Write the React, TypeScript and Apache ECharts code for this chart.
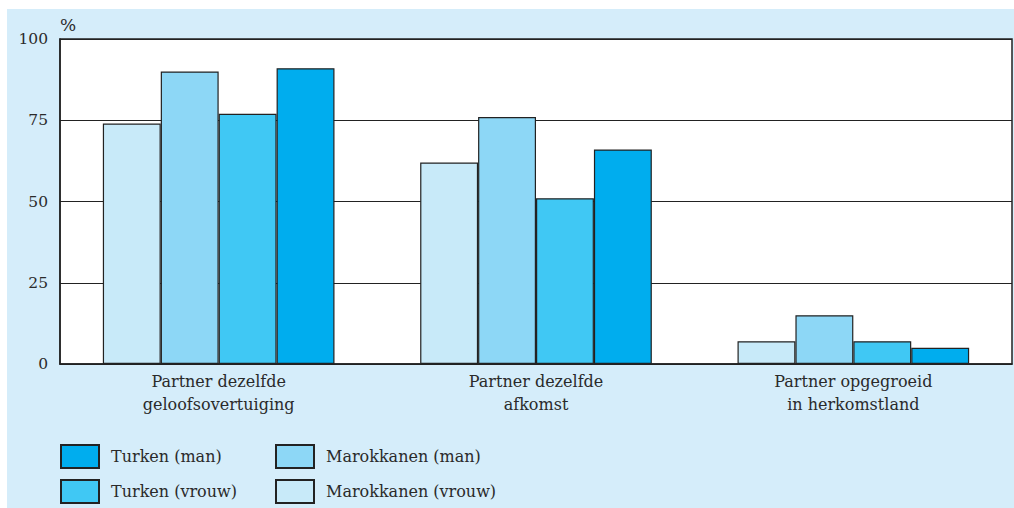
import React, { useEffect, useRef } from "react";
import * as echarts from "echarts";

const categories = [
  "Partner dezelfde\ngeloofsovertuiging",
  "Partner dezelfde\nafkomst",
  "Partner opgegroeid\nin herkomstland",
];
const marokkanenVrouw = [74, 62, 7];
const marokkanenMan = [90, 76, 15];
const turkenVrouw = [77, 51, 7];
const turkenMan = [91, 66, 5];
const yTicks = [0, 25, 50, 75, 100];

const FONT = "DejaVu Serif";
const BG = "#d5edfa";
const TXT = "#2a2a2a";

export default function App() {
  const ref = useRef<HTMLDivElement>(null);
  useEffect(() => {
    if (!ref.current) return;
    const chart = echarts.init(ref.current, null, { renderer: "svg" });
    const mk = (name: string, data: number[], color: string) => ({
      name,
      type: "bar",
      data,
      barGap: "0%",
      barCategoryGap: "27%",
      itemStyle: { color, borderColor: "#222", borderWidth: 1.2 },
    });
    const legendBase = {
      top: 444,
      orient: "vertical",
      padding: 0,
      icon: "rect",
      itemWidth: 38,
      itemHeight: 23,
      itemGap: 10,
      textStyle: { fontFamily: FONT, fontSize: 16, color: TXT, padding: [0, 0, 0, 7] },
    };
    chart.setOption({
      animation: false,
      backgroundColor: "#ffffff",
      textStyle: { fontFamily: FONT },
      graphic: [
        {
          type: "rect",
          z: -10,
          silent: true,
          shape: { x: 7, y: 9, width: 1007, height: 499 },
          style: { fill: BG },
        },
      ],
      grid: {
        left: 60,
        right: 2,
        top: 39,
        bottom: 144,
        show: true,
        backgroundColor: "#ffffff",
        borderColor: "#222",
        borderWidth: 1.5,
        containLabel: false,
      },
      legend: [
        { ...legendBase, left: 60, data: ["Turken (man)", "Turken (vrouw)"] },
        { ...legendBase, left: 275, data: ["Marokkanen (man)", "Marokkanen (vrouw)"] },
      ],
      xAxis: {
        type: "category",
        data: categories,
        axisLine: { show: true, lineStyle: { color: "#222", width: 1.5 } },
        axisTick: { show: false },
        axisLabel: {
          fontFamily: FONT,
          fontSize: 16,
          color: TXT,
          lineHeight: 23,
          margin: 6,
        },
      },
      yAxis: {
        type: "value",
        min: yTicks[0],
        max: yTicks[yTicks.length - 1],
        interval: 25,
        name: "%",
        nameLocation: "end",
        nameGap: 6,
        nameTextStyle: {
          fontFamily: FONT,
          fontSize: 17,
          color: TXT,
          align: "left",
        },
        axisLine: { show: true, lineStyle: { color: "#222", width: 1.5 } },
        axisTick: { show: false },
        axisLabel: { fontFamily: FONT, fontSize: 15.5, color: TXT, margin: 12 },
        splitLine: { show: true, lineStyle: { color: "#222", width: 1 } },
      },
      series: [
        mk("Marokkanen (vrouw)", marokkanenVrouw, "#c8eaf9"),
        mk("Marokkanen (man)", marokkanenMan, "#8dd7f6"),
        mk("Turken (vrouw)", turkenVrouw, "#40c8f4"),
        mk("Turken (man)", turkenMan, "#00adee"),
      ],
    });
    return () => chart.dispose();
  }, []);
  return (
    <div
      ref={ref}
      style={{ position: "absolute", left: 0, top: 0, width: 1014, height: 508 }}
    />
  );
}
